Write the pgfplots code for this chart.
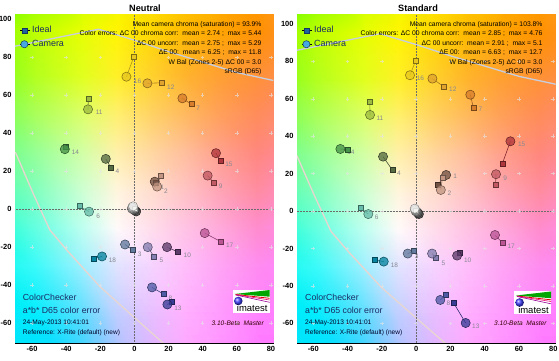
\documentclass[border=0pt]{standalone}
\usepackage{pgfplots}
\pgfplotsset{compat=1.18}
\usepackage{pgfplotstable}
\usepackage{fontspec}
\setmainfont{Liberation Sans}

\definecolor{p1}{RGB}{115,82,68}
\definecolor{p2}{RGB}{194,150,130}
\definecolor{p3}{RGB}{98,122,157}
\definecolor{p4}{RGB}{87,108,67}
\definecolor{p5}{RGB}{133,128,177}
\definecolor{p6}{RGB}{103,189,170}
\definecolor{p7}{RGB}{214,126,44}
\definecolor{p8}{RGB}{80,91,166}
\definecolor{p9}{RGB}{193,90,99}
\definecolor{p10}{RGB}{94,60,108}
\definecolor{p11}{RGB}{157,188,64}
\definecolor{p12}{RGB}{224,163,46}
\definecolor{p13}{RGB}{56,61,150}
\definecolor{p14}{RGB}{70,148,73}
\definecolor{p15}{RGB}{175,54,60}
\definecolor{p16}{RGB}{231,199,31}
\definecolor{p17}{RGB}{187,86,149}
\definecolor{p18}{RGB}{8,133,161}
\definecolor{p19}{RGB}{243,243,242}
\definecolor{p20}{RGB}{200,200,200}
\definecolor{p21}{RGB}{160,160,160}
\definecolor{p22}{RGB}{122,122,121}
\definecolor{p23}{RGB}{85,85,85}
\definecolor{p24}{RGB}{52,52,52}
\definecolor{labgray}{RGB}{135,135,145}
\definecolor{navy}{RGB}{25,45,100}
\definecolor{gamutA}{RGB}{200,206,222}
\definecolor{gamutB}{RGB}{232,214,208}
\definecolor{legsq}{RGB}{30,100,160}
\definecolor{legci}{RGB}{70,170,225}
\definecolor{legedge}{RGB}{20,55,100}

\pgfplotstableread{
x y c
-75 -75 rgb255=0,225,240
-40 -75 rgb255=0,220,255
-20 -75 rgb255=40,200,255
0 -75 rgb255=150,180,255
20 -75 rgb255=210,170,255
40 -75 rgb255=250,160,255
60 -75 rgb255=255,140,255
85 -75 rgb255=255,120,255
-75 -40 rgb255=0,235,245
-40 -40 rgb255=0,235,255
-20 -40 rgb255=90,220,255
0 -40 rgb255=190,205,255
20 -40 rgb255=230,190,255
40 -40 rgb255=255,175,255
60 -40 rgb255=255,155,255
85 -40 rgb255=255,130,255
-75 -20 rgb255=0,250,230
-40 -20 rgb255=60,250,250
-20 -20 rgb255=160,240,255
0 -20 rgb255=225,228,255
20 -20 rgb255=245,212,255
40 -20 rgb255=255,190,250
60 -20 rgb255=255,165,245
85 -20 rgb255=255,140,240
-75 0 rgb255=0,255,200
-40 0 rgb255=100,255,225
-20 0 rgb255=190,255,240
0 0 rgb255=255,250,250
20 0 rgb255=255,222,235
40 0 rgb255=255,195,228
60 0 rgb255=255,170,218
85 0 rgb255=255,140,205
-75 20 rgb255=50,255,165
-40 20 rgb255=130,255,190
-20 20 rgb255=205,255,210
0 20 rgb255=255,245,220
20 20 rgb255=255,222,205
40 20 rgb255=255,195,195
60 20 rgb255=255,165,180
85 20 rgb255=255,140,160
-75 40 rgb255=80,255,125
-40 40 rgb255=150,255,150
-20 40 rgb255=210,255,165
0 40 rgb255=255,240,170
20 40 rgb255=255,215,160
40 40 rgb255=255,190,155
60 40 rgb255=255,160,140
85 40 rgb255=255,135,125
-75 60 rgb255=90,255,70
-40 60 rgb255=170,255,90
-20 60 rgb255=220,255,105
0 60 rgb255=255,240,110
20 60 rgb255=255,210,100
40 60 rgb255=255,185,95
60 60 rgb255=255,160,90
85 60 rgb255=255,140,90
-75 80 rgb255=100,255,30
-40 80 rgb255=180,255,30
-20 80 rgb255=225,255,30
0 80 rgb255=255,240,40
20 80 rgb255=255,210,45
40 80 rgb255=255,180,45
60 80 rgb255=255,160,50
85 80 rgb255=255,145,55
-75 110 rgb255=110,255,0
-40 110 rgb255=190,255,0
-20 110 rgb255=230,255,0
0 110 rgb255=255,245,0
20 110 rgb255=255,215,0
40 110 rgb255=255,185,0
60 110 rgb255=255,165,0
85 110 rgb255=255,145,0
}\bgtable

\newcommand\pair[7]{%
 \addplot[draw=#5!75!black, line width=0.6bp, forget plot] coordinates {(#1,#2) (#3,#4)};
 \addplot[only marks, mark=square*, mark size=2.5bp, mark options={fill=#5, draw=#5!55!black, line width=0.5bp}, forget plot] coordinates {(#1,#2)};
 \addplot[only marks, mark=*, mark size=4.6bp, mark options={fill=#5, fill opacity=0.78, draw=#5!55!black, line width=0.5bp}, forget plot] coordinates {(#3,#4)};
 \node[font=\fontsize{6.5}{7}\selectfont, text=labgray] at (axis cs:#6) {#7};
}

\newcommand\background{%
 \addplot[matrix plot*, shader=interp, mesh/color input=explicit, mesh/cols=8, point meta=explicit symbolic, forget plot] table[meta=c] {\bgtable};
 \addplot[gamutA, line width=1.3bp, forget plot] coordinates {(-72,85.5) (-21,94.8) (0,89) (20,83) (40,77.5) (60,72) (84,67.3)};
 \addplot[gamutB, line width=1.3bp, forget plot] coordinates {(-72,31) (-69.5,29.5) (-59.4,8.4) (-49.6,-10.9) (-39.8,-21.4) (-20.3,-40.7) (-0.8,-56.5) (16.8,-70.5) (18.5,-72)};
 \addplot[only marks, mark=+, mark size=1.8bp, mark options={draw=white!80!gray, draw opacity=0.65, line width=0.5bp}, forget plot] coordinates {
 (-60,-60) (-40,-60) (-20,-60) (0,-60) (20,-60) (40,-60) (60,-60) (80,-60)
 (-60,-40) (-40,-40) (-20,-40) (0,-40) (20,-40) (40,-40) (60,-40) (80,-40)
 (-60,-20) (-40,-20) (-20,-20) (0,-20) (20,-20) (40,-20) (60,-20) (80,-20)
 (-60,0) (-40,0) (-20,0) (0,0) (20,0) (40,0) (60,0) (80,0)
 (-60,20) (-40,20) (-20,20) (0,20) (20,20) (40,20) (60,20) (80,20)
 (-60,40) (-40,40) (-20,40) (0,40) (20,40) (40,40) (60,40) (80,40)
 (-60,60) (-40,60) (-20,60) (0,60) (20,60) (40,60) (60,60) (80,60)
 (-60,80) (-40,80) (-20,80) (0,80) (20,80) (40,80) (60,80) (80,80)};
 \addplot[densely dotted, color=gray!85!black, line width=0.5bp, forget plot] coordinates {(0,-80) (0,120)};
 \addplot[densely dotted, color=gray!85!black, line width=0.5bp, forget plot] coordinates {(-80,0) (90,0)};
}

\newcommand\legendstuff{%
 \addlegendimage{only marks, mark=square*, mark size=2.4bp, mark options={fill=legsq, draw=legedge, line width=0.5bp}}
 \addlegendentry{Ideal}
 \addlegendimage{only marks, mark=*, mark size=3.6bp, mark options={fill=legci, draw=legedge, line width=0.5bp}}
 \addlegendentry{Camera}
}

\pgfplotsset{
 chartax/.style={
  scale only axis, width=258.5bp, height=328bp, anchor=south west,
  ymin=-70.5,
  xtick={-60,-40,...,80}, ytick={-60,-40,...,100},
  tick align=inside, major tick length=3bp,
  tick label style={font=\fontsize{7.5}{8}\selectfont\bfseries},
  /pgf/number format/assume math mode=true,
  axis line style={black, line width=0.5bp},
  every tick/.style={black, line width=0.5bp},
  legend style={at={(0.0155,0.975)}, anchor=north west, draw=none, fill=none,
    font=\fontsize{9}{10}\selectfont, text=navy, row sep=2bp, inner sep=1bp},
  legend cell align=left,
  legend image code/.code={\path (0bp,0bp) -- (9.5bp,0bp); \draw[##1] plot coordinates {(4bp,0bp)};},
 },
}

\newcommand\annot[7]{% x, six lines
 \node[anchor=base east, font=\fontsize{6.8}{8}\selectfont] at (#1bp,334bp) {#2};
 \node[anchor=base east, font=\fontsize{6.8}{8}\selectfont] at (#1bp,325bp) {#3};
 \node[anchor=base east, font=\fontsize{6.8}{8}\selectfont] at (#1bp,315.7bp) {#4};
 \node[anchor=base east, font=\fontsize{6.8}{8}\selectfont] at (#1bp,306.4bp) {#5};
 \node[anchor=base east, font=\fontsize{6.8}{8}\selectfont] at (#1bp,296.7bp) {#6};
 \node[anchor=base east, font=\fontsize{6.8}{8}\selectfont] at (#1bp,287.4bp) {#7};
}

\newcommand\bottomtext[1]{%
 \node[anchor=base west, inner sep=0pt, font=\fontsize{8.8}{10}\selectfont, text=navy] at (#1bp,60bp) {ColorChecker};
 \node[anchor=base west, inner sep=0pt, font=\fontsize{8.8}{10}\selectfont, text=navy] at (#1bp,47.5bp) {a*b* D65 color error};
 \node[anchor=base west, inner sep=0pt, font=\fontsize{6.6}{8}\selectfont, text=black!85!blue] at (#1bp,36.4bp) {24-May-2013 10:41:01};
 \node[anchor=base west, inner sep=0pt, font=\fontsize{6.6}{8}\selectfont, text=black!85!blue] at (#1bp,26.4bp) {Reference: X-Rite (default) (new)};
}

\newcommand\logo[3]{% x0 y0 right-x of version text
 \fill[white] (#1bp,#2bp) rectangle ++(37bp,23bp);
 \fill[green!65!black] (#1bp+2bp,#2bp+19bp) -- (#1bp+37bp,#2bp+23bp) -- (#1bp+37bp,#2bp+16.3bp) -- cycle;
 \draw[red!85!black, line width=0.8bp] (#1bp+3bp,#2bp+18.5bp) -- (#1bp+37bp,#2bp+14.7bp);
 \draw[magenta!80!red, line width=0.6bp] (#1bp+3bp,#2bp+18.3bp) -- (#1bp+37bp,#2bp+13bp);
 \draw[violet!80!magenta, line width=0.6bp] (#1bp+3bp,#2bp+18bp) -- (#1bp+37bp,#2bp+10.7bp);
 \shade[ball color=blue!75!white] (#1bp+5.6bp,#2bp+12bp) circle (4.3bp);
 \node[font=\fontsize{9.5}{10}\selectfont, inner sep=0pt] at (#1bp+19.5bp,#2bp+4.5bp) {imatest};
 \node[anchor=base east, inner sep=0pt, font=\fontsize{6.6}{8}\selectfont\itshape, text=black!80!red] at (#3bp,35.4bp) {3.10-Beta\ \ Master};
}

\begin{document}
\begin{tikzpicture}
\useasboundingbox (0bp,0bp) rectangle (559bp,361bp);

% ---------------- Neutral ----------------
\begin{axis}[chartax, at={(15bp,18bp)}, xmin=-70, xmax=81.5, ymax=102.3]
\background
\legendstuff
\pair{12.4}{13.9}{11.9}{14.5}{p1}{16.2,11.8}{1}
\pair{15.3}{17.8}{13.3}{11.9}{p2}{18.4,9.4}{2}
\pair{-1.2}{-21.4}{-5.5}{-18.6}{p3}{3.1,-23.5}{3}
\pair{-13.9}{22}{-16.8}{26.5}{p4}{-10,20.2}{4}
\pair{11.6}{-25.1}{7.8}{-20}{p5}{15.8,-27}{5}
\pair{-32.3}{1.6}{-26.6}{-1.3}{p6}{-21.3,-3.5}{6}
\pair{33.4}{55.3}{28.1}{58.4}{p7}{37.3,53.2}{7}
\pair{17.2}{-44.8}{10.3}{-41.2}{p8}{21.1,-46.8}{8}
\pair{46.3}{14.1}{42.9}{17.7}{p9}{50.6,12.3}{9}
\pair{25.5}{-22.5}{19.1}{-20}{p10}{31,-24.4}{10}
\pair{-27}{58.4}{-27.2}{52.6}{p11}{-20.7,51}{11}
\pair{16}{66.6}{7.6}{66.3}{p12}{21.3,64.2}{12}
\pair{21.8}{-49}{19.3}{-50.2}{p13}{25.5,-52}{13}
\pair{-40.1}{32.9}{-40.8}{31.6}{p14}{-34.6,29.8}{14}
\pair{50.3}{25.4}{47.8}{29.5}{p15}{55.4,23.7}{15}
\pair{-0.4}{80.1}{-4.7}{69.8}{p16}{1.8,67.5}{16}
\pair{50.4}{-17}{41.2}{-12.6}{p17}{55.8,-18.8}{17}
\pair{-24}{-26.2}{-19}{-24.9}{p18}{-12.9,-27}{18}
\pair{0}{0}{1}{-1.2}{p24}{0,0}{}
\pair{0}{0}{0.2}{-0.6}{p23}{0,0}{}
\pair{0}{0}{-0.6}{-0.2}{p22}{0,0}{}
\pair{0}{0}{-1.5}{0.3}{p21}{0,0}{}
\pair{0}{0}{-1.3}{0.9}{p20}{0,0}{}
\pair{0}{0}{-0.8}{1.5}{p19}{0,0}{}
\end{axis}

% ---------------- Standard ----------------
\begin{axis}[chartax, at={(297bp,18bp)}, xmin=-69.5, xmax=81.3, ymax=104.8]
\background
\legendstuff
\pair{12.4}{13.9}{17.5}{19.3}{p1}{22.7,18.4}{1}
\pair{15.3}{17.8}{14.4}{11.3}{p2}{19.4,9.5}{2}
\pair{-1.2}{-21.4}{-4.9}{-22.7}{p3}{0.3,-24.4}{3}
\pair{-13.9}{22}{-19.3}{29.1}{p4}{-10,20.2}{4}
\pair{11.6}{-25.1}{9.3}{-22.7}{p5}{15.9,-27.9}{5}
\pair{-32.3}{1.6}{-27.9}{-1.6}{p6}{-23,-3.3}{6}
\pair{33.4}{55.3}{31.6}{62.2}{p7}{37.5,54.6}{7}
\pair{17.2}{-44.8}{14.1}{-47.5}{p8}{18.8,-49}{8}
\pair{46.3}{14.1}{46.6}{19.7}{p9}{51.9,17.5}{9}
\pair{25.5}{-22.5}{23.9}{-23.8}{p10}{30.1,-26.1}{10}
\pair{-27}{58.4}{-26.9}{51.4}{p11}{-21.1,49.6}{11}
\pair{16}{66.6}{9.5}{70.8}{p12}{21.4,65.1}{12}
\pair{21.8}{-49}{28.9}{-59.8}{p13}{34.8,-61.8}{13}
\pair{-40.1}{32.9}{-44.2}{33.2}{p14}{-38,31.2}{14}
\pair{50.3}{25.4}{55}{37.3}{p15}{61.6,35.5}{15}
\pair{-0.4}{80.1}{-3.6}{72.6}{p16}{2.5,70.8}{16}
\pair{50.4}{-17}{46}{-12.8}{p17}{55.4,-18.7}{17}
\pair{-24}{-26.2}{-18.9}{-27}{p18}{-12.7,-28.8}{18}
\pair{0}{0}{1.6}{-1.6}{p24}{0,0}{}
\pair{0}{0}{1}{-1}{p23}{0,0}{}
\pair{0}{0}{0.4}{-0.4}{p22}{0,0}{}
\pair{0}{0}{-0.3}{0}{p21}{0,0}{}
\pair{0}{0}{-0.6}{0.6}{p20}{0,0}{}
\pair{0}{0}{-0.8}{1.3}{p19}{0,0}{}
\end{axis}

% titles
\node[font=\fontsize{9.2}{10}\selectfont\bfseries] at (145bp,352.7bp) {Neutral};
\node[font=\fontsize{9.2}{10}\selectfont\bfseries] at (418bp,353.2bp) {Standard};

% annotations
\annot{265}{Mean camera chroma (saturation) = 93.9\%}{Color errors: ΔC 00 chroma corr:\ \ mean = 2.74 ;\ \ max = 5.44}{ΔC 00 uncorr:\ \ mean = 2.75 ;\ \ max = 5.29}{ΔE 00:\ \ mean = 6.25 ;\ \ max = 11.8}{W Bal (Zones 2-5) ΔC 00 = 3.0}{sRGB (D65)}
\annot{546}{Mean camera chroma (saturation) = 103.8\%}{Color errors: ΔC 00 chroma corr:\ \ mean = 2.85 ;\ \ max = 4.76}{ΔC 00 uncorr:\ \ mean = 2.91 ;\ \ max = 5.1}{ΔE 00:\ \ mean = 6.63 ;\ \ max = 12.7}{W Bal (Zones 2-5) ΔC 00 = 3.0}{sRGB (D65)}

\bottomtext{22.7}
\bottomtext{305}
\logo{232.7}{48}{264}
\logo{514}{46.5}{546.7}
\end{tikzpicture}
\end{document}
